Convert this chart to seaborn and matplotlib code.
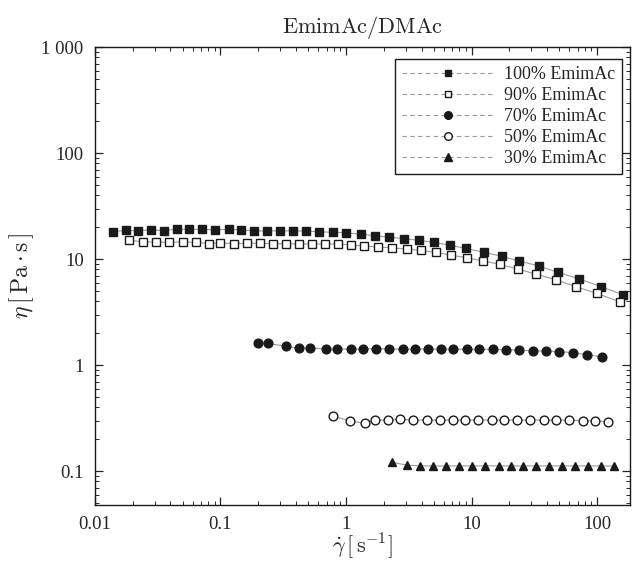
import numpy as np
import pandas as pd
import matplotlib
matplotlib.use("Agg")
import matplotlib.pyplot as plt
from matplotlib.lines import Line2D
from matplotlib.ticker import FixedLocator, FixedFormatter, LogLocator, NullFormatter
import seaborn as sns

# shear rate [1/s] and viscosity [Pa s]
x100 = [0.0139, 0.0177, 0.0220, 0.0279, 0.0355, 0.045, 0.056, 0.071, 0.090, 0.117,
        0.146, 0.185, 0.235, 0.298, 0.378, 0.480, 0.609, 0.788, 1.0, 1.32,
        1.70, 2.20, 2.90, 3.82, 5.03, 6.74, 9.04, 12.6, 17.5, 23.9,
        34.5, 48.9, 71.9, 108, 161]
y100 = [18.1, 18.7, 18.5, 18.9, 18.5, 19.2, 19.1, 19.1, 18.9, 19.1,
        18.9, 18.5, 18.4, 18.5, 18.4, 18.4, 18.1, 17.9, 17.7, 17.2,
        16.6, 16.1, 15.6, 15.0, 14.4, 13.5, 12.6, 11.6, 10.6, 9.6,
        8.6, 7.5, 6.5, 5.5, 4.6]

x90 = [0.0187, 0.0243, 0.0306, 0.0391, 0.050, 0.0638, 0.0815, 0.100, 0.128, 0.162,
       0.207, 0.261, 0.333, 0.425, 0.534, 0.681, 0.869, 1.09, 1.39, 1.81,
       2.34, 3.05, 3.94, 5.19, 6.87, 9.17, 12.4, 16.9, 23.4, 32.7,
       46.9, 67.6, 99.5, 151]
y90 = [15.1, 14.5, 14.5, 14.4, 14.5, 14.4, 14.0, 14.2, 14.0, 14.1,
       14.1, 14.0, 14.0, 13.9, 13.9, 13.9, 13.9, 13.6, 13.3, 13.0,
       12.8, 12.4, 12.1, 11.6, 10.9, 10.3, 9.6, 8.9, 8.05, 7.2,
       6.4, 5.5, 4.75, 3.96]

x70 = [0.200, 0.238, 0.333, 0.425, 0.517, 0.693, 0.853, 1.09, 1.37, 1.73,
       2.21, 2.83, 3.55, 4.48, 5.68, 7.16, 9.16, 11.5, 14.7, 18.8,
       24.0, 30.8, 39.2, 50.1, 64.7, 83.7, 109]
y70 = [1.60, 1.60, 1.51, 1.44, 1.46, 1.41, 1.42, 1.42, 1.42, 1.43,
       1.42, 1.41, 1.42, 1.42, 1.42, 1.41, 1.41, 1.41, 1.41, 1.39,
       1.39, 1.36, 1.36, 1.34, 1.31, 1.25, 1.20]

x50 = [0.783, 1.08, 1.42, 1.70, 2.17, 2.69, 3.44, 4.39, 5.61, 7.08,
       8.87, 11.3, 14.5, 18.2, 23.2, 29.3, 37.4, 47.1, 60.1, 76.9,
       96.4, 122]
y50 = [0.330, 0.298, 0.282, 0.303, 0.303, 0.308, 0.303, 0.303, 0.303, 0.303,
       0.303, 0.303, 0.303, 0.303, 0.303, 0.303, 0.303, 0.303, 0.303, 0.298,
       0.298, 0.292]

x30 = [2.31, 3.05, 3.89, 4.91, 6.27, 8.0, 10.0, 12.8, 16.4, 20.7,
       25.9, 32.7, 41.7, 52.4, 66.8, 85.3, 107, 135]
y30 = [0.121, 0.114, 0.112, 0.112, 0.112, 0.112, 0.112, 0.112, 0.112, 0.112,
       0.112, 0.112, 0.112, 0.112, 0.112, 0.112, 0.112, 0.112]

labels = ["100% EmimAc", "90% EmimAc", "70% EmimAc", "50% EmimAc", "30% EmimAc"]

sns.set_style("ticks")
plt.rcParams["font.family"] = ["Liberation Serif", "DejaVu Serif"]
plt.rcParams["mathtext.fontset"] = "cm"

fig = plt.figure(figsize=(6.32, 5.61), dpi=100)
ax = fig.add_axes([0.150, 0.100, 0.847, 0.816])

series = [
    (x100, y100, "s", "#1a1a1a", 5.6),
    (x90, y90, "s", "white", 5.6),
    (x70, y70, "o", "#1a1a1a", 6.3),
    (x50, y50, "o", "white", 6.3),
    (x30, y30, "^", "#1a1a1a", 6.3),
]

handles = []
for (xs, ys, mk, fc, ms), lab in zip(series, labels):
    df = pd.DataFrame({"rate": xs, "eta": ys})
    sns.lineplot(data=df, x="rate", y="eta", ax=ax, sort=False, estimator=None,
                 color="#9a9a9a", linewidth=0.8, marker=mk, markersize=ms,
                 markerfacecolor=fc, markeredgecolor="#1a1a1a", markeredgewidth=1.0)
    handles.append(Line2D([], [], color="#9a9a9a", linewidth=0.8, linestyle=(0, (4, 3)),
                          marker=mk, markersize=ms - 0.8, markerfacecolor=fc,
                          markeredgecolor="#1a1a1a", markeredgewidth=1.0, label=lab))

ax.set_xscale("log")
ax.set_yscale("log")
ax.set_xlim(0.01, 183)
ax.set_ylim(0.048, 1000)

xt = [0.01, 0.1, 1, 10, 100]
ax.xaxis.set_major_locator(FixedLocator(xt))
ax.xaxis.set_major_formatter(FixedFormatter(["0.01", "0.1", "1", "10", "100"]))
yt = [0.1, 1, 10, 100, 1000]
ax.yaxis.set_major_locator(FixedLocator(yt))
ax.yaxis.set_major_formatter(FixedFormatter(["0.1", "1", "10", "100", "1 000"]))
for a in (ax.xaxis, ax.yaxis):
    a.set_minor_locator(LogLocator(base=10, subs=np.arange(2, 10)))
    a.set_minor_formatter(NullFormatter())

ax.tick_params(which="both", direction="in", top=True, right=True, labelsize=13.5)
ax.tick_params(axis="x", pad=8)
ax.tick_params(axis="y", pad=8)
ax.tick_params(which="major", length=6, width=0.9)
ax.tick_params(which="minor", length=3, width=0.7)
for s in ax.spines.values():
    s.set_linewidth(1.0)
    s.set_color("#1a1a1a")

ax.set_xlabel(r"$\dot{\gamma}\,[\,\mathrm{s}^{-1}]$", fontsize=16, labelpad=-1)
ax.set_ylabel(r"$\eta\,[\,\mathrm{Pa\cdot s}\,]$", fontsize=17, labelpad=4)
ax.set_title(r"$\mathrm{EmimAc/DMAc}$", fontsize=16, pad=10)

leg = ax.legend(handles=handles, loc="upper right", bbox_to_anchor=(0.985, 0.974),
                borderaxespad=0, fontsize=13, frameon=True, fancybox=False,
                edgecolor="#1a1a1a", framealpha=1, handlelength=5.0,
                labelspacing=0.22, borderpad=0.4, handletextpad=0.6)
leg.get_frame().set_linewidth(1.0)

fig.savefig("out.png", dpi=100)
